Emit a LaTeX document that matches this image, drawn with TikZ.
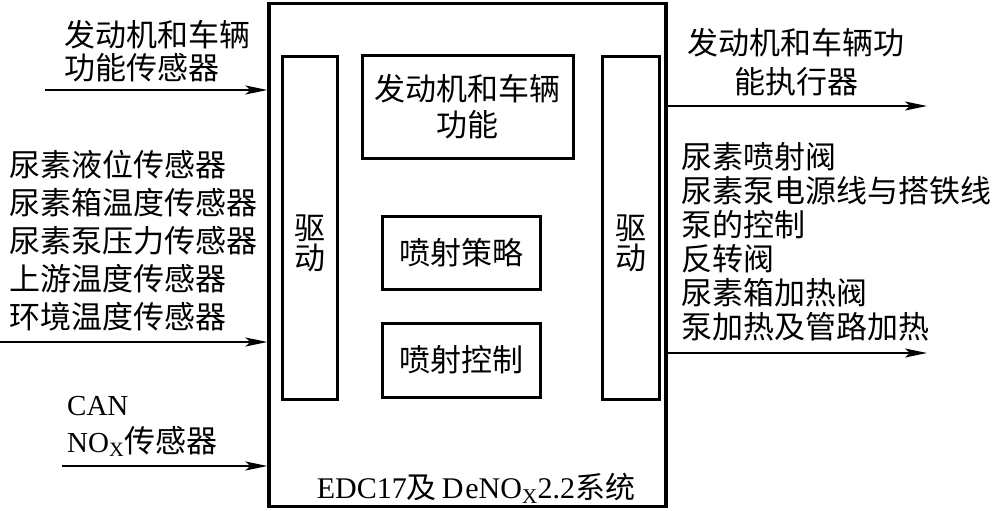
\documentclass[tikz,border=0pt]{standalone}
\usepackage{fontspec}
\setmainfont{Liberation Serif}
\newfontfamily\cjk{Noto Sans CJK SC}
\usetikzlibrary{
    arrows.meta,
    positioning
}

\begin{document}
\begin{tikzpicture}[
        x=1pt, y=-1pt,
        frame/.style={
            draw,
            line width=3.2pt,
            inner sep=0pt,
            minimum width=397pt,
            minimum height=503pt
        },
        block/.style={
            draw,
            line width=3pt,
            inner sep=0pt,
            align=center,
            font=\cjk\fontsize{31}{36}\selectfont
        },
        txt/.style={
            inner sep=0pt,
            align=left,
            font=\cjk\fontsize{31}{36}\selectfont
        },
        flow/.style={
            -{Stealth[length=22pt,width=9pt,inset=5pt]},
            line width=2pt
        }
    ]

    \useasboundingbox (0,0) rectangle (993,511);

    % ECU frame and inner blocks
    \node[frame] (ecu) at (467.5,255) {};

    \node[block, minimum width=55pt, minimum height=342pt] (drvL) at (309.5,228) {};
    \node[txt, align=center, font=\cjk\fontsize{31}{30}\selectfont]
        (drvLtext) at ([yshift=-15pt]drvL.center) {驱\\动};

    \node[block, minimum width=57pt, minimum height=342pt] (drvR) at (630.5,228) {};
    \node[txt, align=center, font=\cjk\fontsize{31}{30}\selectfont]
        (drvRtext) at ([yshift=-15pt]drvR.center) {驱\\动};

    \node[block, minimum width=211pt, minimum height=102pt] (func) at (467.5,107)
        {发动机和车辆\\功能};

    \node[block, minimum width=158pt, minimum height=73pt] (strategy) at (461,252.5)
        {喷射策略};

    \node[block, minimum width=158pt, minimum height=74pt] (control) at (461,360)
        {喷射控制};

    \node[txt, font=\fontsize{30}{30}\selectfont] (sys) at (476,488)
        {EDC17{\cjk 及}\,D\kern2pt eNO\textsubscript{X}2.2{\cjk 系统}};

    % inputs
    \node[txt, font=\cjk\fontsize{31}{33}\selectfont, anchor=west] (senA) at (64,51.5)
        {发动机和车辆\\功能传感器};

    \node[txt, font=\cjk\fontsize{31}{38}\selectfont, anchor=west] (senB) at (9,241)
        {尿素液位传感器\\尿素箱温度传感器\\尿素泵压力传感器\\上游温度传感器\\环境温度传感器};

    \node[txt, font=\fontsize{29}{37}\selectfont, anchor=west] (senC) at (67,426.5)
        {CAN\\NO\textsubscript{X}{\cjk\fontsize{31}{37}\selectfont 传感器}};

    % outputs
    \node[txt, align=center, font=\cjk\fontsize{31}{39}\selectfont] (actA) at (796,62.5)
        {发动机和车辆功\\能执行器};

    \node[txt, font=\cjk\fontsize{31}{34}\selectfont, anchor=west] (actB) at (681,242)
        {尿素喷射阀\\尿素泵电源线与搭铁线\\泵的控制\\反转阀\\尿素箱加热阀\\泵加热及管路加热};

    % connectors
    \coordinate (inA) at (45,90);
    \coordinate (inB) at (0,342);
    \coordinate (inC) at (62,466);
    \coordinate (outA) at (927,106);
    \coordinate (outB) at (927,353);

    \draw[flow] (inA) -- (inA -| ecu.west);
    \draw[flow] (inB) -- (inB -| ecu.west);
    \draw[flow] (inC) -- (inC -| ecu.west);
    \draw[flow] (ecu.east |- outA) -- (outA);
    \draw[flow] (ecu.east |- outB) -- (outB);

\end{tikzpicture}
\end{document}
